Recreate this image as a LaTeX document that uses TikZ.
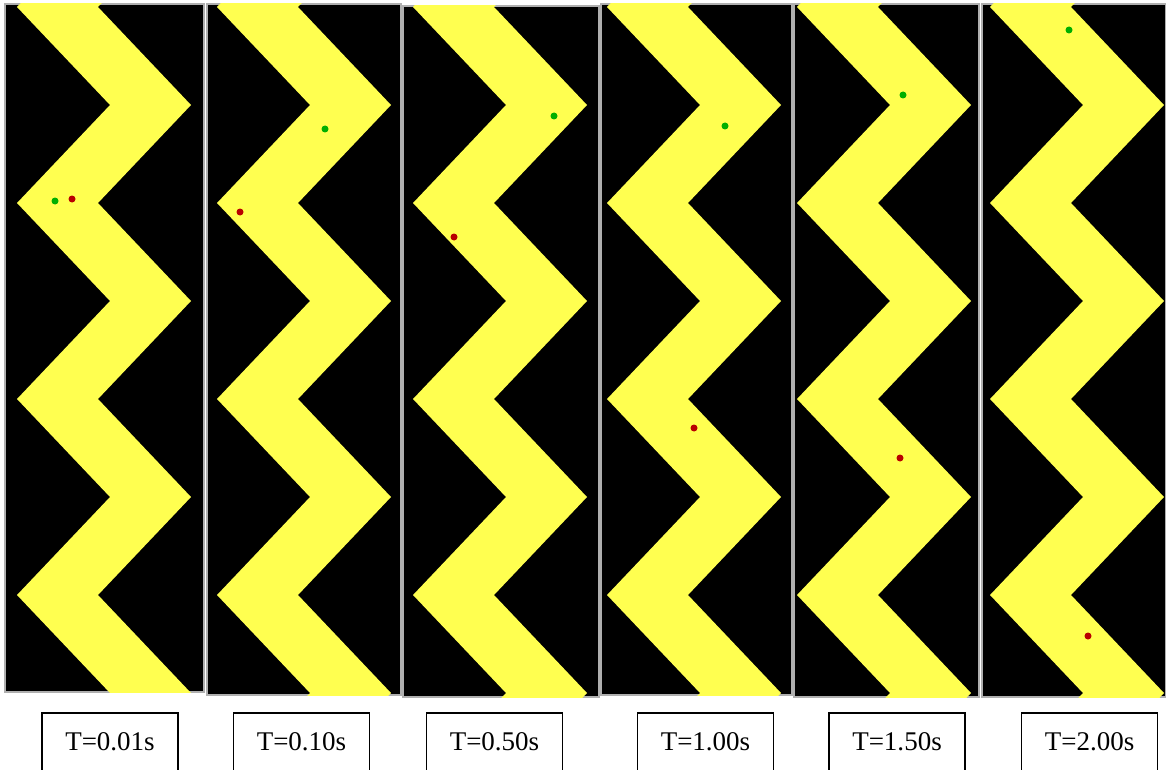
\documentclass[tikz,border=0pt]{standalone}
\usepackage{xcolor}
\usepackage{fontspec}
\setmainfont{Liberation Serif}
\usepackage{tikz}
\usetikzlibrary{positioning}
\definecolor{trackyellow}{RGB}{255,255,80}
\definecolor{dotgreen}{RGB}{0,175,0}
\definecolor{dotred}{RGB}{185,0,0}
\definecolor{framegray}{RGB}{175,175,175}
\tikzset{
  panel/.style={fill=black, draw=framegray, line width=1.2pt},
  track/.style={fill=trackyellow},
  gdot/.style={circle, fill=dotgreen, inner sep=0pt, minimum size=7pt},
  rdot/.style={circle, fill=dotred, inner sep=0pt, minimum size=7pt},
  tbox/.style={draw, line width=1.2pt, minimum width=136pt, inner sep=0pt,
    text height=37pt, text depth=25pt, anchor=base,
    font=\fontsize{27}{32}\selectfont}
}

\begin{document}
\begin{tikzpicture}[x=1pt, y=-1pt]
  \useasboundingbox (0,0) rectangle (1166,770);
  % ── panels: black field with the yellow zigzag track ──────────────────────
  \foreach \pl/\pt/\pr/\pb/\zl in {5/4/204/692/17, 207/4/401/695/217,
      403/6/599/697/413, 601/4/792/695/607, 794/4/979/697/797,
      982/4/1166/697/990}{
    \draw[panel] (\pl,\pt) rectangle (\pr,\pb);
    \begin{scope}
      \clip (\pl,\pt) rectangle (\pr,\pb);
      \fill[track, shift={(\zl,0)}]
        (93,-91) -- (0,7) -- (93,105) -- (0,203) -- (93,301) -- (0,399)
        -- (93,497) -- (0,595) -- (93,693) -- (0,791)
        -- (81,791) -- (174,693) -- (81,595) -- (174,497) -- (81,399)
        -- (174,301) -- (81,203) -- (174,105) -- (81,7) -- (174,-91) -- cycle;
    \end{scope}
  }
  % ── particles (green / red) ──────────────────────────────────────────────
  \node[gdot] (g1) at (55,201) {};
  \node[rdot] (r1) at (72,199) {};
  \node[gdot] (g2) at (325,129) {};
  \node[rdot] (r2) at (240,212) {};
  \node[gdot] (g3) at (554,116) {};
  \node[rdot] (r3) at (454,237) {};
  \node[gdot] (g4) at (725,126) {};
  \node[rdot] (r4) at (694,428) {};
  \node[gdot] (g5) at (903,95) {};
  \node[rdot] (r5) at (900,458) {};
  \node[gdot] (g6) at (1069,30) {};
  \node[rdot] (r6) at (1088,636) {};
  % ── time labels ──────────────────────────────────────────────────────────
  \node[tbox] (t1) at (110,750) {T=0.01s};
  \node[tbox] (t2) at (301.5,750) {T=0.10s};
  \node[tbox] (t3) at (494.5,750) {T=0.50s};
  \node[tbox] (t4) at (705.5,750) {T=1.00s};
  \node[tbox] (t5) at (897,750) {T=1.50s};
  \node[tbox] (t6) at (1089.5,750) {T=2.00s};
\end{tikzpicture}
\end{document}
